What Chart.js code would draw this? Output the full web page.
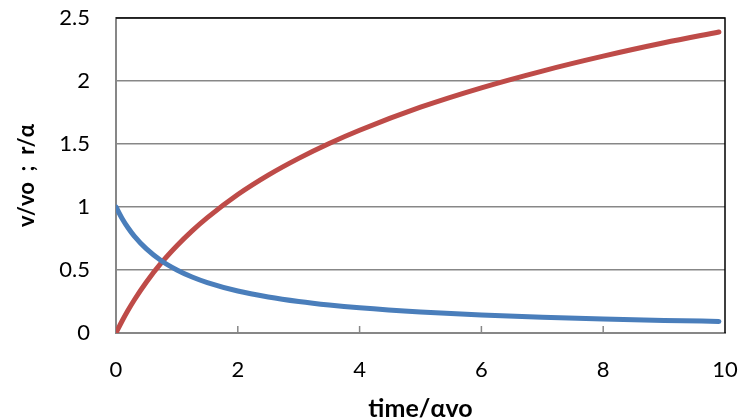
<!DOCTYPE html>
<html>
<head>
<meta charset="utf-8">
<script src="https://cdn.jsdelivr.net/npm/chart.js@4.4.1/dist/chart.umd.min.js"></script>
<style>
  html, body { margin: 0; padding: 0; background: #fff; }
  #wrap { width: 741px; height: 420px; }
</style>
</head>
<body>
<div id="wrap"><canvas id="chart"></canvas></div>
<script>
// values
var times = [0, 0.1, 0.2, 0.3, 0.5, 0.75, 1, 1.25, 1.5, 2, 2.5, 3, 3.5, 4, 5, 6, 7, 8, 9, 9.9];
var velocity = [1, 0.909, 0.833, 0.769, 0.667, 0.571, 0.5, 0.444, 0.4, 0.333, 0.286, 0.25, 0.222, 0.2, 0.167, 0.143, 0.125, 0.111, 0.1, 0.092];
var distance = [0, 0.095, 0.182, 0.262, 0.405, 0.56, 0.693, 0.811, 0.916, 1.099, 1.253, 1.386, 1.504, 1.609, 1.792, 1.946, 2.079, 2.197, 2.303, 2.389];
var xTicks = [0, 2, 4, 6, 8, 10];
var yTicks = [0, 0.5, 1, 1.5, 2, 2.5];

var fontName = "Lato";
var gridGray = "#878787";

function toPoints(ys) {
	return times.map(function (t, i) { return { x: t, y: ys[i] }; });
}

// black top/right border and the little inward ticks on the x axis
var frame = {
	id: "frame",
	beforeDatasetsDraw: function (chart) {
		var ctx = chart.ctx, a = chart.chartArea, xs = chart.scales.x;
		ctx.save();
		ctx.strokeStyle = "#000";
		ctx.lineWidth = 1.5;
		ctx.beginPath();
		ctx.moveTo(a.left, a.top);
		ctx.lineTo(a.right, a.top);
		ctx.lineTo(a.right, a.bottom);
		ctx.stroke();
		ctx.strokeStyle = gridGray;
		ctx.lineWidth = 1.5;
		xTicks.forEach(function (v) {
			if (v === 0 || v === 10) return;
			var px = xs.getPixelForValue(v);
			ctx.beginPath();
			ctx.moveTo(px, a.bottom);
			ctx.lineTo(px, a.bottom - 7);
			ctx.stroke();
		});
		ctx.restore();
	}
};

new Chart(document.getElementById("chart"), {
	type: "scatter",
	data: {
		datasets: [
			{
				label: "v/vo",
				data: toPoints(velocity),
				showLine: true,
				borderColor: "#4A7EBB",
				borderWidth: 5,
				pointRadius: 0,
				cubicInterpolationMode: "monotone",
				borderCapStyle: "round"
			},
			{
				label: "r/alpha",
				data: toPoints(distance),
				showLine: true,
				borderColor: "#BE4B48",
				borderWidth: 5,
				pointRadius: 0,
				cubicInterpolationMode: "monotone",
				borderCapStyle: "round"
			}
		]
	},
	options: {
		responsive: true,
		maintainAspectRatio: false,
		animation: false,
		layout: { padding: { top: 18, right: 16, left: 0, bottom: 0 } },
		plugins: { legend: { display: false }, tooltip: { enabled: false } },
		scales: {
			x: {
				type: "linear",
				min: 0,
				max: 10,
				afterBuildTicks: function (scale) {
					scale.ticks = xTicks.map(function (v) { return { value: v }; });
				},
				afterFit: function (scale) {
					scale.height = 87;
					scale.paddingLeft = 0;
					scale.paddingRight = 0;
				},
				grid: { display: true, drawOnChartArea: false, drawTicks: false, color: gridGray },
				border: { color: gridGray, width: 2 },
				ticks: {
					padding: 24, color: "#000", font: { family: fontName, size: 22 },
					callback: function (v) { return String(v); }
				},
				title: {
					display: true,
					text: "time/\u03b1vo",
					color: "#000",
					font: { family: fontName, size: 25, weight: "bold", lineHeight: 0.85 },
					padding: { top: 0, bottom: 0 }
				}
			},
			y: {
				min: 0,
				max: 2.5,
				afterBuildTicks: function (scale) {
					scale.ticks = yTicks.map(function (v) { return { value: v }; });
				},
				afterFit: function (scale) {
					scale.width = 116;
					scale.paddingTop = 0;
					scale.paddingBottom = 0;
				},
				grid: { color: gridGray, lineWidth: 1.5, drawTicks: false },
				border: { color: gridGray, width: 2 },
				ticks: {
					padding: 26, color: "#000", font: { family: fontName, size: 22 },
					callback: function (v) { return String(v); }
				},
				title: {
					display: true,
					text: "v/vo  ;  r/\u03b1",
					color: "#000",
					font: { family: fontName, size: 22, weight: "bold" },
					padding: { top: 14, bottom: 0 }
				}
			}
		}
	},
	plugins: [frame]
});
</script>
</body>
</html>
